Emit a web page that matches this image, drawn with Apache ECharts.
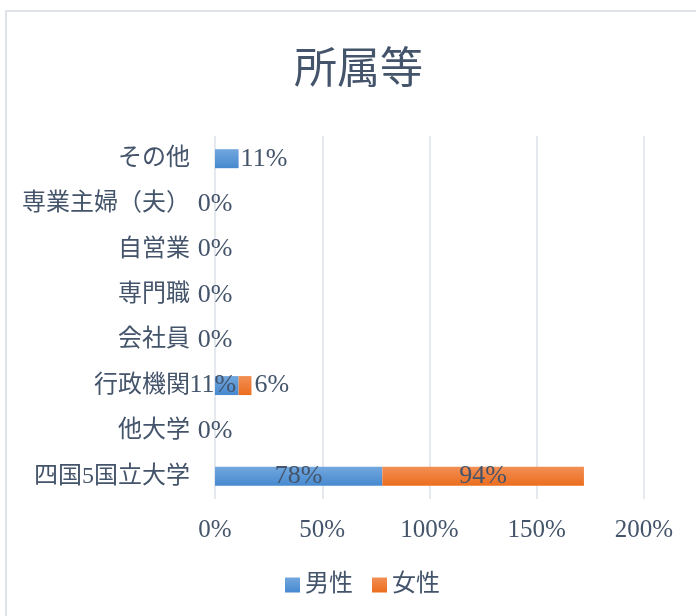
<!DOCTYPE html>
<html>
<head>
<meta charset="utf-8">
<script src="https://cdn.jsdelivr.net/npm/echarts@6/dist/echarts.min.js"></script>
<style>
  html, body { margin: 0; padding: 0; background: #fff; }
  #main { width: 696px; height: 616px; }
</style>
</head>
<body>
<div id="main"></div>
<script>
// 下から上の順
var categories = ['四国5国立大学', '他大学', '行政機関', '会社員', '専門職', '自営業', '専業主婦（夫）', 'その他'];
var maleValues = [78, 0, 11, 0, 0, 0, 0, 11];
var femaleValues = [94, 0, 6, 0, 0, 0, 0, 0];
var seriesNames = ['男性', '女性'];

var textColor = '#44546A';
var numFont = "'Liberation Serif', 'Noto Sans CJK JP', serif";

var blueGrad = new echarts.graphic.LinearGradient(0, 0, 0, 1, [
    { offset: 0, color: '#72a7de' },
    { offset: 1, color: '#4689cf' }
]);
var orangeGrad = new echarts.graphic.LinearGradient(0, 0, 0, 1, [
    { offset: 0, color: '#f28f55' },
    { offset: 1, color: '#ec6d1e' }
]);

// ラベル位置の微調整（元のグラフで手動移動されていたもの）
function maleData() {
    return maleValues.map(function (v, i) {
        var item = { value: v };
        if (categories[i] === 'その他') {
            item.label = { position: 'right', distance: 2 };
        } else if (categories[i] === '行政機関') {
            item.label = { offset: [-14, 0] };
        }
        return item;
    });
}
function femaleData() {
    return femaleValues.map(function (v, i) {
        var item = { value: v };
        if (categories[i] === '行政機関') {
            item.label = { position: 'right', distance: 3 };
        }
        return item;
    });
}

var chart = echarts.init(document.getElementById('main'));
chart.setOption({
    backgroundColor: '#fff',
    animation: false,
    title: {
        text: '所属等',
        left: 289,
        top: 40,
        textStyle: {
            fontFamily: "'Noto Sans CJK JP', sans-serif",
            fontSize: 43,
            fontWeight: 'normal',
            color: textColor
        }
    },
    graphic: [{
        type: 'rect',
        shape: { x: 6, y: 11, width: 720, height: 640 },
        style: { fill: 'none', stroke: '#dfe3e8', lineWidth: 2 },
        silent: true
    }],
    legend: {
        data: seriesNames,
        bottom: 14,
        left: 280,
        itemWidth: 15,
        itemHeight: 15,
        itemGap: 19,
        icon: 'rect',
        textStyle: {
            fontFamily: numFont,
            fontSize: 24,
            color: textColor
        }
    },
    grid: {
        left: 215,
        right: 52,
        top: 136,
        bottom: 117,
        containLabel: false
    },
    xAxis: {
        type: 'value',
        min: 0,
        max: 200,
        interval: 50,
        axisLine: { show: false },
        axisTick: { show: false },
        splitLine: { lineStyle: { color: '#dde2e8', width: 1.5 } },
        axisLabel: {
            formatter: '{value}%',
            margin: 19,
            fontFamily: numFont,
            fontSize: 25,
            color: textColor
        }
    },
    yAxis: {
        type: 'category',
        data: categories,
        axisLine: { show: false },
        axisTick: { show: false },
        axisLabel: {
            margin: 25,
            fontFamily: numFont,
            fontSize: 24,
            color: textColor
        }
    },
    series: [{
        name: seriesNames[0],
        type: 'bar',
        stack: 'total',
        barWidth: 19,
        itemStyle: { color: blueGrad },
        label: {
            show: true,
            position: 'inside',
            formatter: '{c}%',
            fontFamily: numFont,
            fontSize: 26,
            color: textColor
        },
        data: maleData()
    }, {
        name: seriesNames[1],
        type: 'bar',
        stack: 'total',
        barWidth: 19,
        itemStyle: { color: orangeGrad },
        label: {
            show: true,
            position: 'inside',
            formatter: function (p) { return p.value > 0 ? p.value + '%' : ''; },
            fontFamily: numFont,
            fontSize: 26,
            color: textColor
        },
        data: femaleData()
    }]
});
</script>
</body>
</html>
